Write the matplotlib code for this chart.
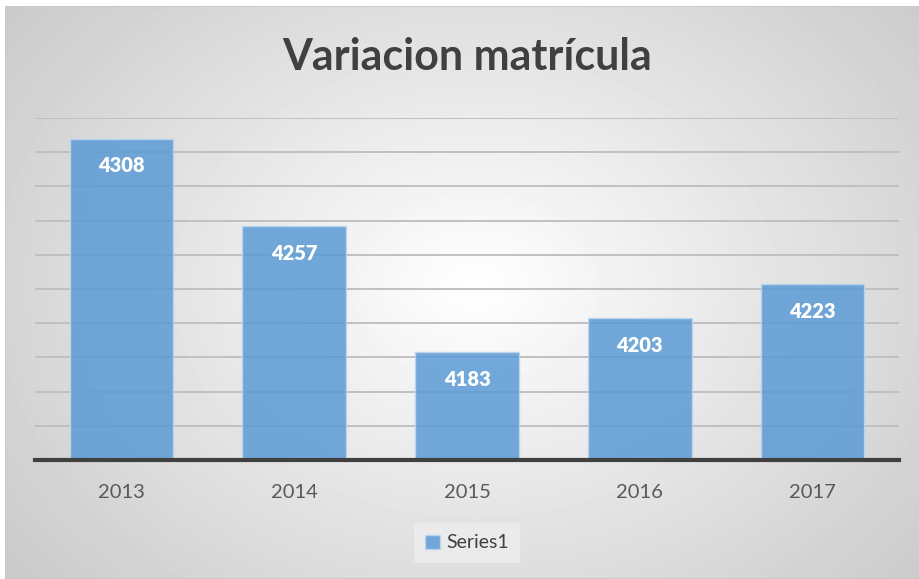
import matplotlib.pyplot as plt
import numpy as np
from matplotlib.patches import Rectangle

years = ['2013', '2014', '2015', '2016', '2017']
matricula = [4308, 4257, 4183, 4203, 4223]

plt.rcParams['font.family'] = ['Lato', 'DejaVu Sans']

W, H = 920, 579
fig = plt.figure(figsize=(W/100, H/100), dpi=100)
fig.patch.set_facecolor('white')

# radial gradient background of the chart area
bg = fig.add_axes([5/W, 0, 1-5/W, 1-6/H])
yy, xx = np.mgrid[0:573, 0:915]
r = np.sqrt(((xx-470)/600.0)**2 + ((yy-280)/460.0)**2)
shade = np.clip(1.0 - 0.21*r, 0.77, 1.0)
bg.imshow(shade, cmap='gray', vmin=0, vmax=1, aspect='auto', extent=[0, 1, 0, 1])
bg.add_patch(Rectangle((0, 0), 1, 1, transform=bg.transAxes, fill=False,
                       edgecolor='#c8c8c8', lw=1.2))
bg.set_axis_off()

ax = fig.add_axes([35/W, (H-460)/H, (899-35)/W, (460-118)/H])
ax.set_facecolor('none')
x = np.arange(len(years))
bars = ax.bar(x, matricula, width=0.6, color='#5b9bd5', alpha=0.85,
              edgecolor='#bdd7ee', linewidth=1, zorder=3)
ax.set_ylim(4120, 4320)
ax.set_xlim(-0.5, 4.5)
ax.set_yticks(np.arange(4140, 4321, 20))
ax.yaxis.grid(True, color='#c0c0c0', lw=1.4, zorder=0)
ax.tick_params(axis='y', length=0, labelleft=False)
ax.tick_params(axis='x', length=0, pad=17, labelsize=14.5, labelcolor='#595959')
ax.set_xticks(x)
ax.set_xticklabels(years)
for s in ['top', 'right', 'left']:
    ax.spines[s].set_visible(False)
ax.spines['bottom'].set_color('#404040')
ax.spines['bottom'].set_linewidth(3)
ax.spines['bottom'].set_zorder(4)

for b, v in zip(bars, matricula):
    ax.text(b.get_x()+b.get_width()/2, v-16, str(v), ha='center', va='center',
            color='white', fontsize=14.5, fontweight='heavy', zorder=5)

fig.text(467/W, 1-57/H, 'Variacion matrícula', ha='center', va='center',
         fontsize=31, fontweight='bold', color='#404040')

leg = ax.legend([bars[0]], ['Series1'], loc='center', bbox_to_anchor=(467/W, 1-543/H),
                bbox_transform=fig.transFigure, frameon=True, fontsize=14,
                handlelength=0.75, handleheight=0.75, handletextpad=0.3,
                borderpad=0.6)
leg.get_frame().set_facecolor('#f2f2f2')
leg.get_frame().set_edgecolor('none')
leg.get_frame().set_alpha(0.6)
for t in leg.get_texts():
    t.set_color('#404040')

fig.savefig('out.png', dpi=100)
